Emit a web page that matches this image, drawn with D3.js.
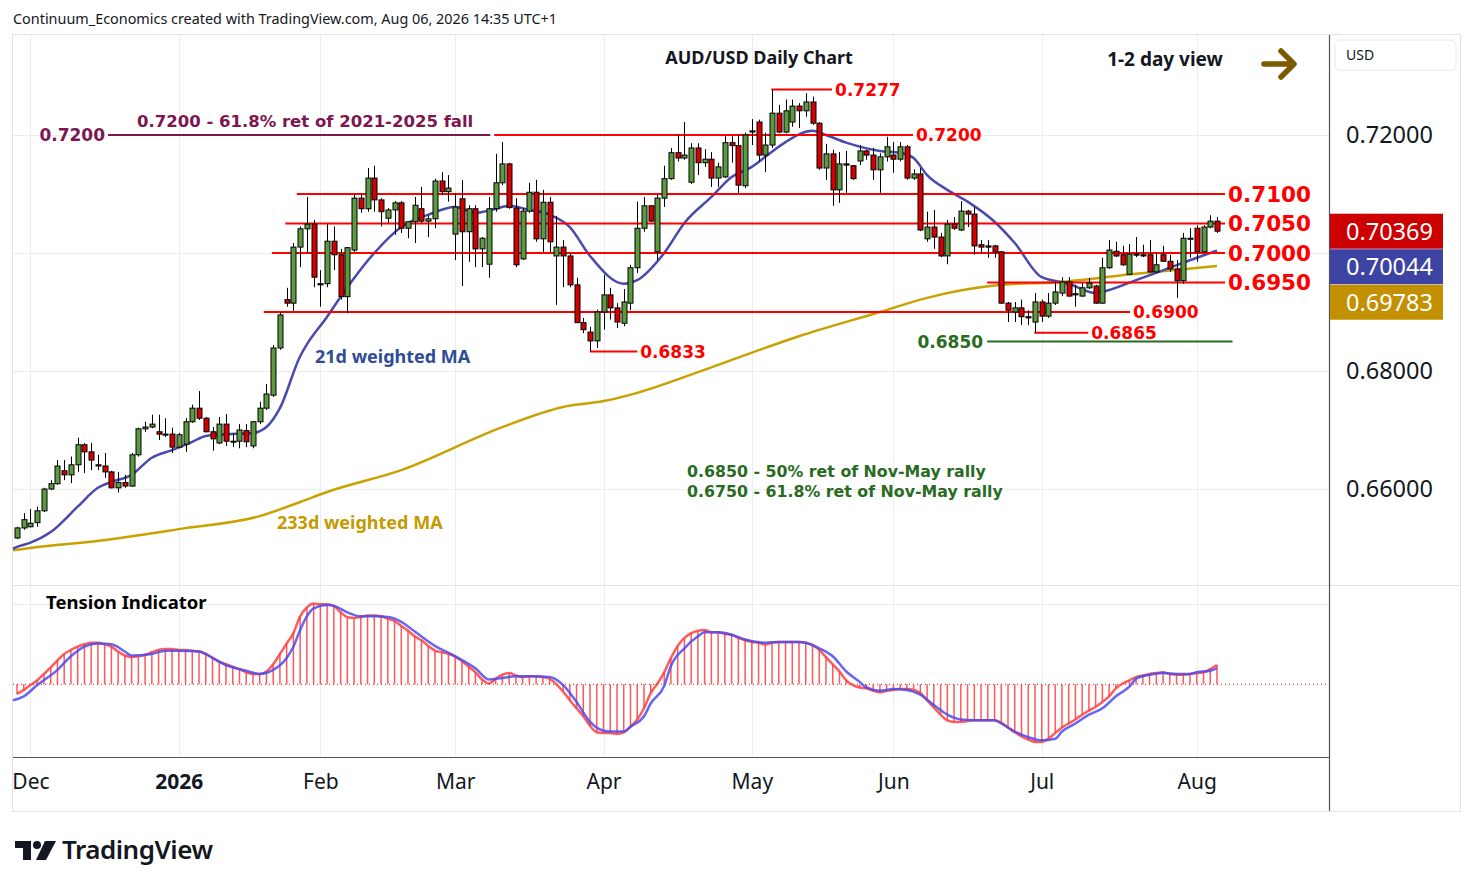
<!DOCTYPE html>
<html>
<head>
<meta charset="utf-8">
<script src="https://cdn.jsdelivr.net/npm/d3@7"></script>
<style>
  body { margin: 0; background: #fff; }
  text { font-family: "Noto Sans", sans-serif; }
</style>
</head>
<body>
<div id="container"></div>
<script>
// Trading days shown on the chart (weekends and the two holidays skipped)
const holidays = ["2025-12-25", "2026-01-01"];
const dates = [];
for (let d = new Date(Date.UTC(2025, 10, 27)); d <= new Date(Date.UTC(2026, 7, 6)); d.setUTCDate(d.getUTCDate() + 1)) {
  const s = d.toISOString().slice(0, 10);
  if (d.getUTCDay() % 6 !== 0 && !holidays.includes(s)) dates.push(s);
}

// Daily candles AUD/USD
const opens = [
  .6517,.6534,.6536,.6543,.6563,.6600,.6609,.6631,.6624,.6641,
  .6675,.6663,.6641,.6639,.6629,.6602,.6611,.6605,.6658,.6702,
  .6705,.6697,.6693,.6693,.6671,.6676,.6714,.6737,.6720,.6697,
  .6678,.6710,.6681,.6681,.6699,.6673,.6714,.6737,.6759,.6839,
  .6921,.6915,.7010,.7041,.7049,.6948,.6948,.7020,.6997,.6926,
  .7005,.7093,.7075,.7127,.7090,.7059,.7073,.7085,.7042,.7053,
  .7075,.7054,.7058,.7122,.7104,.7032,.7092,.7036,.7075,.7007,
  .6981,.7075,.7119,.7151,.7076,.6990,.7071,.7103,.7024,.7086,
  .6995,.7010,.6995,.6946,.6882,.6866,.6851,.6900,.6929,.6907,
  .6881,.6915,.6975,.7042,.7080,.7002,.7093,.7126,.7170,.7161,
  .7120,.7178,.7153,.7159,.7127,.7129,.7187,.7182,.7114,.7205,
  .7222,.7166,.7183,.7237,.7205,.7222,.7249,.7241,.7256,.7220,
  .7144,.7168,.7107,.7151,.7148,.7156,.7173,.7166,.7141,.7163,
  .7166,.7159,.7180,.7127,.7134,.7024,.7044,.7027,.6995,.7049,
  .7039,.7071,.7066,.7014,.7012,.7012,.7002,.6915,.6900,.6907,
  .6892,.6883,.6917,.6893,.6915,.6932,.6951,.6931,.6927,.6941,
  .6944,.6915,.6975,.7003,.6997,.6964,.6998,.6997,.6997,.6968,
  .6997,.6986,.6973,.6953,.7025,.7042,.7002,.7044,.7054
];
const highs = [
  .6536,.6559,.6566,.6570,.6602,.6615,.6649,.6649,.6655,.6687,
  .6678,.6678,.6658,.6661,.6631,.6629,.6624,.6661,.6704,.6714,
  .6726,.6726,.6720,.6704,.6695,.6720,.6743,.6766,.6722,.6705,
  .6722,.6727,.6695,.6710,.6710,.6715,.6748,.6778,.6844,.6899,
  .6941,.7017,.7045,.7095,.7056,.6971,.7049,.7045,.7007,.7010,
  .7099,.7099,.7144,.7148,.7093,.7076,.7088,.7088,.7054,.7095,
  .7112,.7064,.7126,.7137,.7132,.7101,.7124,.7081,.7081,.7027,
  .7095,.7168,.7188,.7153,.7093,.7076,.7119,.7124,.7107,.7095,
  .7063,.7022,.7000,.6958,.6890,.6875,.6904,.6963,.6941,.6915,
  .6939,.6980,.7087,.7095,.7081,.7099,.7148,.7178,.7200,.7222,
  .7186,.7186,.7176,.7171,.7153,.7198,.7198,.7200,.7204,.7227,
  .7226,.7204,.7277,.7251,.7260,.7260,.7254,.7271,.7265,.7222,
  .7185,.7175,.7171,.7173,.7149,.7183,.7175,.7178,.7169,.7197,
  .7188,.7188,.7183,.7142,.7144,.7070,.7073,.7034,.7056,.7061,
  .7088,.7073,.7078,.7022,.7022,.7014,.7003,.6917,.6917,.6921,
  .6903,.6932,.6921,.6932,.6951,.6959,.6959,.6946,.6949,.6958,
  .6946,.6992,.7022,.7019,.7012,.7015,.7027,.7014,.7022,.7000,
  .7012,.6997,.6988,.7034,.7042,.7047,.7047,.7064,.7061
];
const lows = [
  .6515,.6531,.6535,.6536,.6561,.6598,.6607,.6615,.6610,.6629,
  .6627,.6632,.6632,.6619,.6601,.6594,.6602,.6604,.6655,.6697,
  .6703,.6683,.6688,.6661,.6669,.6663,.6712,.6717,.6696,.6665,
  .6676,.6673,.6671,.6669,.6671,.6669,.6710,.6734,.6756,.6836,
  .6909,.6902,.6976,.7000,.6942,.6909,.6942,.6971,.6921,.6898,
  .7002,.7068,.7070,.7070,.7045,.7051,.7031,.7034,.7025,.7017,
  .7051,.7027,.7042,.7098,.7087,.6988,.6944,.6985,.6976,.6976,
  .6958,.7070,.7115,.7075,.6976,.6988,.7068,.7019,.7002,.7002,
  .6912,.6942,.6942,.6881,.6864,.6833,.6839,.6870,.6887,.6873,
  .6876,.6903,.6966,.7036,.7053,.6988,.7078,.7124,.7155,.7158,
  .7117,.7132,.7146,.7112,.7112,.7127,.7153,.7102,.7110,.7183,
  .7155,.7137,.7178,.7203,.7203,.7214,.7212,.7231,.7217,.7141,
  .7124,.7080,.7085,.7102,.7124,.7149,.7158,.7124,.7102,.7155,
  .7136,.7155,.7124,.7124,.7037,.7019,.7007,.6993,.6981,.7039,
  .7037,.7044,.6997,.6999,.6992,.6992,.6914,.6883,.6883,.6878,
  .6878,.6865,.6883,.6890,.6912,.6927,.6926,.6909,.6926,.6939,
  .6914,.6914,.6973,.6993,.6978,.6963,.6993,.6993,.6966,.6966,
  .6985,.6968,.6924,.6948,.6992,.6985,.7000,.7042,.7034
];
const closes = [
  .6534,.6548,.6542,.6563,.6600,.6609,.6639,.6624,.6641,.6675,
  .6663,.6649,.6639,.6629,.6602,.6611,.6605,.6658,.6702,.6705,
  .6710,.6693,.6692,.6671,.6692,.6714,.6737,.6720,.6697,.6685,
  .6710,.6681,.6680,.6700,.6680,.6714,.6737,.6761,.6839,.6895,
  .6915,.7010,.7041,.7049,.6959,.6946,.7020,.6997,.6926,.7009,
  .7093,.7075,.7127,.7090,.7070,.7073,.7085,.7042,.7053,.7081,
  .7054,.7058,.7122,.7104,.7110,.7078,.7036,.7075,.7007,.7025,
  .7075,.7119,.7151,.7077,.6980,.7071,.7103,.7024,.7086,.7019,
  .7010,.6995,.6946,.6882,.6870,.6851,.6900,.6929,.6907,.6883,
  .6917,.6975,.7042,.7080,.7054,.7093,.7126,.7170,.7161,.7166,
  .7178,.7153,.7159,.7127,.7146,.7187,.7182,.7115,.7200,.7207,
  .7166,.7183,.7237,.7205,.7241,.7249,.7241,.7256,.7220,.7144,
  .7168,.7107,.7151,.7149,.7126,.7173,.7166,.7141,.7163,.7180,
  .7159,.7180,.7127,.7134,.7039,.7044,.7027,.6995,.7049,.7042,
  .7071,.7066,.7012,.7010,.7010,.7002,.6915,.6903,.6907,.6892,
  .6890,.6917,.6893,.6915,.6934,.6951,.6927,.6929,.6941,.6949,
  .6915,.6975,.7005,.6995,.6980,.6998,.6997,.6995,.6968,.6980,
  .6986,.6973,.6953,.7025,.7024,.7002,.7044,.7054,.7037
];

// Moving averages: [bar index, value]
const ma21 = [[-0.6,.6499],[0,.6502],[2,.6509],[5,.6527],[9,.6570],[12,.6602],[14,.6612],[17,.6624],[20,.6653],[23,.6666],
  [26,.6680],[28,.6690],[31,.6693],[35,.6695],[37,.6705],[39,.6737],[42,.6825],[43,.6845],[46,.6892],[47,.6909],
  [53,.7000],[57,.7044],[61,.7065],[65,.7078],[68,.7068],[71,.7075],[73,.7080],[76,.7073],[79,.7065],[82,.7044],
  [85,.6995],[90,.6948],[92,.6954],[96,.7000],[99,.7051],[103,.7095],[106,.7129],[109,.7146],[111,.7163],
  [114,.7188],[118,.7207],[120,.7200],[123,.7187],[128,.7173],[131,.7170],[133,.7161],[135,.7132],[138,.7107],
  [141,.7087],[145,.7053],[148,.7017],[152,.6959],[156,.6948],[160,.6932],[161,.6934],[166,.6954],[171,.6975],
  [175,.6992],[178,.7004]];
const ma233 = [[-0.6,.6496],[0,.6497],[14,.6515],[24,.6532],[36,.6554],[42,.6578],[46,.6595],[57,.6632],[72,.6705],
  [81,.6739],[87,.6749],[92,.6763],[101,.6798],[116,.6859],[128,.6900],[135,.6924],[146,.6946],[155,.6951],
  [166,.6965],[178,.6978]];

// Tension indicator (one value per bar) and its signal line
const tension = [
  -0.12,-0.07,-0.01,0.05,0.13,0.21,0.30,0.38,0.43,0.47,
  0.50,0.52,0.52,0.50,0.47,0.41,0.36,0.34,0.35,0.37,
  0.40,0.43,0.44,0.44,0.43,0.43,0.42,0.41,0.38,0.33,
  0.28,0.25,0.22,0.19,0.15,0.13,0.13,0.16,0.25,0.38,
  0.51,0.64,0.85,0.96,1.01,1.00,1.00,0.98,0.90,0.84,
  0.83,0.84,0.86,0.86,0.85,0.82,0.79,0.73,0.67,0.60,
  0.55,0.48,0.42,0.40,0.38,0.35,0.29,0.22,0.15,0.06,
  0.01,0.07,0.12,0.14,0.11,0.09,0.10,0.10,0.09,0.07,
  0.00,-0.09,-0.20,-0.30,-0.40,-0.52,-0.60,-0.61,-0.61,-0.62,
  -0.60,-0.53,-0.44,-0.30,-0.11,0.01,0.15,0.33,0.48,0.58,
  0.64,0.67,0.68,0.65,0.65,0.63,0.62,0.58,0.55,0.53,
  0.52,0.50,0.52,0.53,0.53,0.53,0.53,0.52,0.49,0.43,
  0.34,0.25,0.16,0.05,-0.01,-0.04,-0.05,-0.08,-0.10,-0.08,
  -0.07,-0.06,-0.06,-0.07,-0.11,-0.20,-0.29,-0.38,-0.45,-0.47,
  -0.47,-0.46,-0.45,-0.45,-0.45,-0.45,-0.48,-0.54,-0.60,-0.65,
  -0.69,-0.72,-0.72,-0.68,-0.61,-0.54,-0.49,-0.44,-0.38,-0.33,
  -0.28,-0.22,-0.15,-0.05,0.01,0.05,0.09,0.11,0.13,0.14,
  0.15,0.13,0.12,0.12,0.13,0.14,0.15,0.19,0.24
];
const tensionSignal = [[-0.6,-0.20],[1,-0.15],[3,-0.01],[6,0.18],[8,0.35],[10,0.47],[12,0.51],[14,0.50],[16,0.41],
  [17,0.36],[20,0.38],[22,0.42],[24,0.42],[27,0.41],[29,0.33],[31,0.24],[34,0.17],[36,0.13],[38,0.18],[40,0.33],
  [41,0.47],[42,0.68],[43,0.85],[44,0.95],[46,0.99],[47,0.98],[49,0.90],[51,0.85],[53,0.85],[55,0.84],[57,0.78],
  [59,0.66],[62,0.48],[65,0.35],[68,0.20],[70,0.06],[72,0.08],[74,0.10],[76,0.10],[79,0.09],[81,-0.01],[83,-0.22],
  [85,-0.47],[87,-0.58],[88,-0.59],[90,-0.59],[91,-0.53],[93,-0.40],[94,-0.24],[96,-0.02],[97,0.23],[99,0.45],
  [101,0.60],[102,0.65],[104,0.65],[106,0.62],[108,0.56],[111,0.52],[113,0.53],[116,0.53],[117,0.52],[119,0.45],
  [121,0.35],[123,0.16],[125,0.03],[126,-0.04],[128,-0.08],[130,-0.06],[132,-0.07],[134,-0.13],[136,-0.26],
  [138,-0.38],[140,-0.44],[142,-0.45],[145,-0.45],[146,-0.49],[148,-0.59],[150,-0.66],[152,-0.70],[154,-0.68],
  [155,-0.59],[157,-0.49],[159,-0.38],[161,-0.30],[163,-0.15],[165,-0.03],[166,0.07],[168,0.12],[170,0.14],
  [172,0.13],[174,0.13],[175,0.15],[177,0.17],[178,0.20]];

// Red support / resistance lines: price, from bar, to bar
const levelPrices = [0.7277, 0.7200, 0.7100, 0.7050, 0.7000, 0.6950, 0.6900, 0.6865, 0.6833];
const levelFrom   = [111.9, 70.8, 41.5, 39.8, 37.8, 143.9, 36.6, 150.9, 85];
const levelTo     = [120.9, 132.9, 179.2, 179.2, 179.2, 179.2, 165.1, 158.9, 92];
const bigLevels = [0.7100, 0.7050, 0.7000, 0.6950];
// Fibonacci lines
const fibPrices = [0.7200, 0.6850];
const fibFrom = [13.5, 143.9];
const fibTo = [70.2, 180.3];

const priceTicks = [0.72, 0.70, 0.68, 0.66];
const monthDates = ["2025-12-01","2026-01-02","2026-02-02","2026-03-02","2026-04-01","2026-05-01","2026-06-01","2026-07-01","2026-08-03"];
const monthLabels = ["Dec","2026","Feb","Mar","Apr","May","Jun","Jul","Aug"];
const lastValues = [0.70369, 0.70044, 0.69783];

// Geometry
const width = 1474, height = 887;
const chartLeft = 13, chartRight = 1329;
const axisY = 757;

const x = d3.scaleLinear().domain([0, dates.length - 1]).range([17, 1217]);
const y = d3.scaleLinear().domain([0.66, 0.72]).range([489, 135]);
const yT = d3.scaleLinear().domain([0, 1]).range([684.3, 604.3]);

const svg = d3.create("svg").attr("width", width).attr("height", height)
  .style("display", "block").style("background", "#fff");

// clip for chart area
svg.append("clipPath").attr("id", "clipChart")
  .append("rect").attr("x", chartLeft).attr("y", 35).attr("width", chartRight - chartLeft).attr("height", 777);

// header text
svg.append("text").attr("x", 13).attr("y", 24).attr("font-size", 14.4).attr("fill", "#131722")
  .text("Continuum_Economics created with TradingView.com, Aug 06, 2026 14:35 UTC+1");

// outer frame
svg.append("rect").attr("x", 12.5).attr("y", 34.5).attr("width", 1448).attr("height", 777)
  .attr("fill", "none").attr("stroke", "#e0e3eb");

// grid
const grid = svg.append("g").attr("stroke", "#e8eef4").attr("stroke-width", 1);
monthDates.forEach(d => {
  const xx = Math.round(x(dates.indexOf(d))) + 0.5;
  grid.append("line").attr("x1", xx).attr("x2", xx).attr("y1", 35).attr("y2", axisY);
});
priceTicks.forEach(p => {
  grid.append("line").attr("x1", chartLeft).attr("x2", chartRight).attr("y1", Math.round(y(p)) + 0.5).attr("y2", Math.round(y(p)) + 0.5);
});
grid.append("line").attr("x1", chartLeft).attr("x2", chartRight).attr("y1", 604.5).attr("y2", 604.5);

// pane separator + axes lines
svg.append("line").attr("x1", chartLeft).attr("x2", 1460).attr("y1", 585.5).attr("y2", 585.5).attr("stroke", "#dfe2ea");
svg.append("line").attr("x1", chartLeft).attr("x2", chartRight).attr("y1", axisY + 0.5).attr("y2", axisY + 0.5).attr("stroke", "#50535e").attr("stroke-width", 1.2);
svg.append("line").attr("x1", chartRight + 0.5).attr("x2", chartRight + 0.5).attr("y1", 35).attr("y2", 811).attr("stroke", "#50535e").attr("stroke-width", 1.2);

// moving averages
const maLine = d3.line().x(d => x(d[0])).y(d => y(d[1])).curve(d3.curveMonotoneX);
svg.append("path").datum(ma233).attr("fill", "none").attr("stroke", "#c9a100").attr("stroke-width", 2.5).attr("d", maLine);
svg.append("path").datum(ma21).attr("fill", "none").attr("stroke", "#4a4aae").attr("stroke-width", 2.5).attr("d", maLine);

// level lines
levelPrices.forEach((p, i) => {
  svg.append("line").attr("x1", x(levelFrom[i])).attr("x2", x(levelTo[i]))
    .attr("y1", y(p)).attr("y2", y(p)).attr("stroke", "#ff0000").attr("stroke-width", 2);
});
const fibColors = ["#7d1650", "#2a6b22"];
fibPrices.forEach((p, i) => {
  svg.append("line").attr("x1", x(fibFrom[i])).attr("x2", x(fibTo[i]))
    .attr("y1", y(p)).attr("y2", y(p)).attr("stroke", fibColors[i]).attr("stroke-width", 2);
});

// candles
const candles = svg.append("g");
dates.forEach((d, i) => {
  const up = closes[i] >= opens[i];
  const cx = Math.round(x(i)) + 0.5;
  candles.append("line").attr("x1", cx).attr("x2", cx).attr("y1", y(highs[i])).attr("y2", y(lows[i]))
    .attr("stroke", "#000").attr("stroke-width", 1);
  const top = y(Math.max(opens[i], closes[i]));
  const bot = y(Math.min(opens[i], closes[i]));
  candles.append("rect").attr("x", cx - 2.5).attr("y", top).attr("width", 5).attr("height", Math.max(1, bot - top))
    .attr("fill", up ? "#5c9a40" : "#d40000").attr("stroke", "#000").attr("stroke-width", 1);
});

// level labels
levelPrices.forEach((p, i) => {
  const big = bigLevels.includes(p);
  svg.append("text").attr("x", x(levelTo[i]) + 3).attr("y", y(p))
    .attr("dy", "0.36em")
    .style("font-family", "'DejaVu Sans', sans-serif")
    .attr("font-weight", "bold")
    .attr("font-size", big ? 21.5 : 17)
    .attr("fill", "#ff0000")
    .text(p.toFixed(4));
});
svg.append("text").attr("x", x(fibFrom[0]) - 3).attr("y", y(fibPrices[0])).attr("dy", "0.36em")
  .attr("text-anchor", "end").style("font-family", "'DejaVu Sans', sans-serif").attr("font-weight", "bold")
  .attr("font-size", 17).attr("fill", fibColors[0]).text(fibPrices[0].toFixed(4));
svg.append("text").attr("x", (x(fibFrom[0]) + x(fibTo[0])) / 2 + 6).attr("y", y(fibPrices[0]) - 8)
  .attr("text-anchor", "middle").style("font-family", "'DejaVu Sans', sans-serif").attr("font-weight", 600)
  .attr("font-size", 16.5).attr("fill", fibColors[0])
  .text("0.7200 - 61.8% ret of 2021-2025 fall");
svg.append("text").attr("x", x(fibFrom[1]) - 4).attr("y", y(fibPrices[1])).attr("dy", "0.36em")
  .attr("text-anchor", "end").style("font-family", "'DejaVu Sans', sans-serif").attr("font-weight", "bold")
  .attr("font-size", 17).attr("fill", fibColors[1]).text(fibPrices[1].toFixed(4));

// annotations
svg.append("text").attr("x", 759).attr("y", 64).attr("text-anchor", "middle").attr("font-weight", "bold")
  .attr("font-size", 18).attr("fill", "#131722").text("AUD/USD Daily Chart");
svg.append("text").attr("x", 1165).attr("y", 66).attr("text-anchor", "middle").attr("font-weight", "bold")
  .attr("font-size", 19).attr("fill", "#131722").text("1-2 day view");
svg.append("path").attr("d", "M1264,64 L1293,64 M1281,51 L1294,64 L1281,77")
  .attr("fill", "none").attr("stroke", "#7b5a00").attr("stroke-width", 5.5)
  .attr("stroke-linecap", "round").attr("stroke-linejoin", "round");
svg.append("text").attr("x", 315).attr("y", 363).attr("font-weight", "bold").attr("font-size", 18)
  .attr("fill", "#2f4c96").text("21d weighted MA");
svg.append("text").attr("x", 277).attr("y", 529).attr("font-weight", "bold").attr("font-size", 18)
  .attr("fill", "#c49a00").text("233d weighted MA");
svg.append("text").attr("x", 687).attr("y", 477).style("font-family", "'DejaVu Sans', sans-serif")
  .attr("font-weight", 600).attr("font-size", 15.8).attr("fill", "#2a6b22").text("0.6850 - 50% ret of Nov-May rally");
svg.append("text").attr("x", 687).attr("y", 497).style("font-family", "'DejaVu Sans', sans-serif")
  .attr("font-weight", 600).attr("font-size", 15.8).attr("fill", "#2a6b22").text("0.6750 - 61.8% ret of Nov-May rally");

// tension indicator pane
svg.append("line").attr("x1", chartLeft).attr("x2", chartRight).attr("y1", yT(0)).attr("y2", yT(0))
  .attr("stroke", "#ff0000").attr("stroke-width", 1).attr("stroke-dasharray", "1,3");
const hist = svg.append("g");
tension.forEach((v, i) => {
  hist.append("line").attr("x1", x(i)).attr("x2", x(i)).attr("y1", yT(0)).attr("y2", yT(v))
    .attr("stroke", "#ff3b3b").attr("stroke-opacity", 0.85).attr("stroke-width", 1.5);
});
svg.append("path").datum(tension).attr("fill", "none").attr("stroke", "#ff4040").attr("stroke-opacity", 0.85)
  .attr("stroke-width", 2.5).attr("d", d3.line().x((d, i) => x(i)).y(d => yT(d)).curve(d3.curveMonotoneX));
svg.append("path").datum(tensionSignal).attr("fill", "none").attr("stroke", "#4b4bf0").attr("stroke-opacity", 0.85)
  .attr("stroke-width", 2.5).attr("d", d3.line().x(d => x(d[0])).y(d => yT(d[1])).curve(d3.curveMonotoneX));
svg.append("text").attr("x", 46).attr("y", 609).attr("font-weight", "bold").attr("font-size", 18.5)
  .attr("fill", "#000").text("Tension Indicator");

// price axis (the 0.70000 label sits under the last-value boxes, so it is left out)
const yAxis = d3.axisRight(y).tickValues(priceTicks.filter(p => p !== 0.70)).tickSize(0).tickPadding(0)
  .tickFormat(d3.format(".5f"));
svg.append("g").attr("transform", "translate(1346,0)").call(yAxis)
  .call(g => g.select(".domain").remove())
  .selectAll("text").attr("font-size", 23.5).attr("fill", "#131722").style("font-family", "'Noto Sans', sans-serif");

// last value boxes
const boxColors = ["#cc0000", "#3c43a3", "#c29000"];
lastValues.forEach((v, i) => {
  const cy = y(lastValues[0]) + i * 35.5;
  svg.append("rect").attr("x", 1330).attr("y", cy - 17.5).attr("width", 113).attr("height", 35).attr("fill", boxColors[i]);
  svg.append("text").attr("x", 1346).attr("y", cy).attr("dy", "0.36em").attr("font-size", 23.5)
    .attr("fill", "#fff").text(v.toFixed(5));
});

// currency box
svg.append("rect").attr("x", 1335).attr("y", 40).attr("width", 121).attr("height", 30).attr("rx", 5)
  .attr("fill", "#fff").attr("stroke", "#e6e8ee");
svg.append("text").attr("x", 1346).attr("y", 60).attr("font-size", 14).attr("fill", "#131722").text("USD");

// time axis (clipped at the chart's left edge, like the "Dec" label in the original)
const xAxis = d3.axisBottom(x).tickValues(monthDates.map(d => dates.indexOf(d)))
  .tickSize(0).tickPadding(17).tickFormat((d, i) => monthLabels[i]);
svg.append("g").attr("clip-path", "url(#clipChart)")
  .append("g").attr("transform", `translate(0,${axisY})`)
  .call(xAxis)
  .call(g => g.select(".domain").remove())
  .selectAll("text").attr("font-size", 21).attr("fill", "#131722")
  .attr("font-weight", (d, i) => monthLabels[i] === "2026" ? "bold" : "normal");

// TradingView logo
const logo = svg.append("g").attr("fill", "#131722");
logo.append("path").attr("d", "M15,841 H31 V860 H23 V848 H15 Z");
logo.append("circle").attr("cx", 37).attr("cy", 845).attr("r", 4);
logo.append("path").attr("d", "M45,841 H56 L46,860 H36 Z");
logo.append("text").attr("x", 62).attr("y", 859).attr("font-size", 26).attr("font-weight", 600)
  .attr("letter-spacing", "-0.5").text("TradingView");

container.append(svg.node());
</script>
</body>
</html>
